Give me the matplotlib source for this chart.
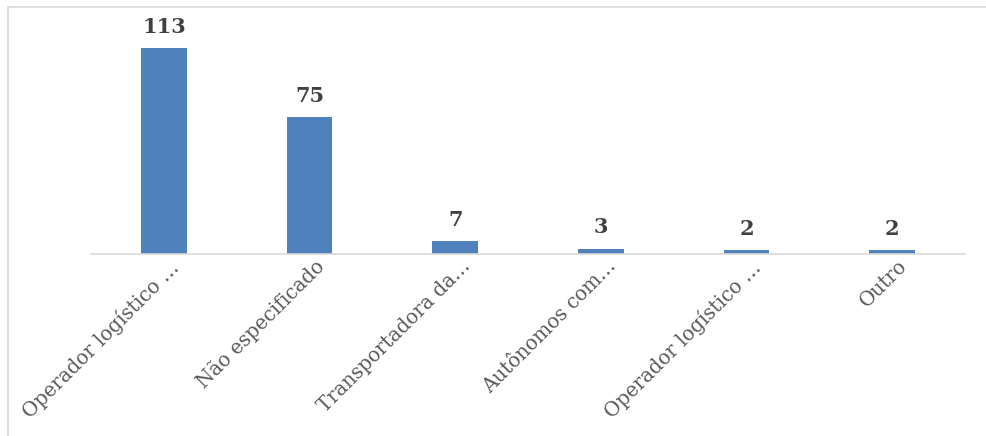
import matplotlib.pyplot as plt
import matplotlib.transforms as mtransforms
from matplotlib.lines import Line2D

categories = ["Operador logístico …", "Não especificado", "Transportadora da…",
              "Autônomos com…", "Operador logístico …", "Outro"]
values = [113, 75, 7, 3, 2, 2]

plt.rcParams['font.family'] = ['DejaVu Serif']

fig = plt.figure(figsize=(9.86, 4.36), dpi=100)
ax = fig.add_axes([91 / 986, 1 - 254 / 436, (965 - 91) / 986, (254 - 20) / 436])

bars = ax.bar(range(len(values)), values, width=0.315, color='#4F81BD')
ax.set_xlim(-0.5, len(values) - 0.5)
ax.set_ylim(0, 234 / 1.823)

for b, v in zip(bars, values):
    ax.annotate(str(v), (b.get_x() + b.get_width() / 2, v), xytext=(0, 8),
                textcoords='offset points', ha='center', va='bottom',
                fontsize=15, fontweight='bold', color='#404040')

ax.set_yticks([])
ax.set_xticks(range(len(values)))
ax.set_xticklabels(categories, rotation=45, ha='right', va='top',
                   fontsize=14.2, color='#595959')
ax.tick_params(axis='x', length=0, pad=2)
offset = mtransforms.ScaledTranslation(19 / 100, 0, fig.dpi_scale_trans)
for lbl in ax.get_xticklabels():
    lbl.set_transform(lbl.get_transform() + offset)

for s in ['top', 'right', 'left']:
    ax.spines[s].set_visible(False)
ax.spines['bottom'].set_color('#D9D9D9')
ax.spines['bottom'].set_linewidth(1.2)

# chart frame: only top and left edges show
fig.lines.append(Line2D([8 / 986, 1], [1 - 7 / 436, 1 - 7 / 436], transform=fig.transFigure,
                        color='#D9D9D9', linewidth=1.2))
fig.lines.append(Line2D([8 / 986, 8 / 986], [0, 1 - 7 / 436], transform=fig.transFigure,
                        color='#D9D9D9', linewidth=1.2))

fig.savefig('out.png', dpi=100)
